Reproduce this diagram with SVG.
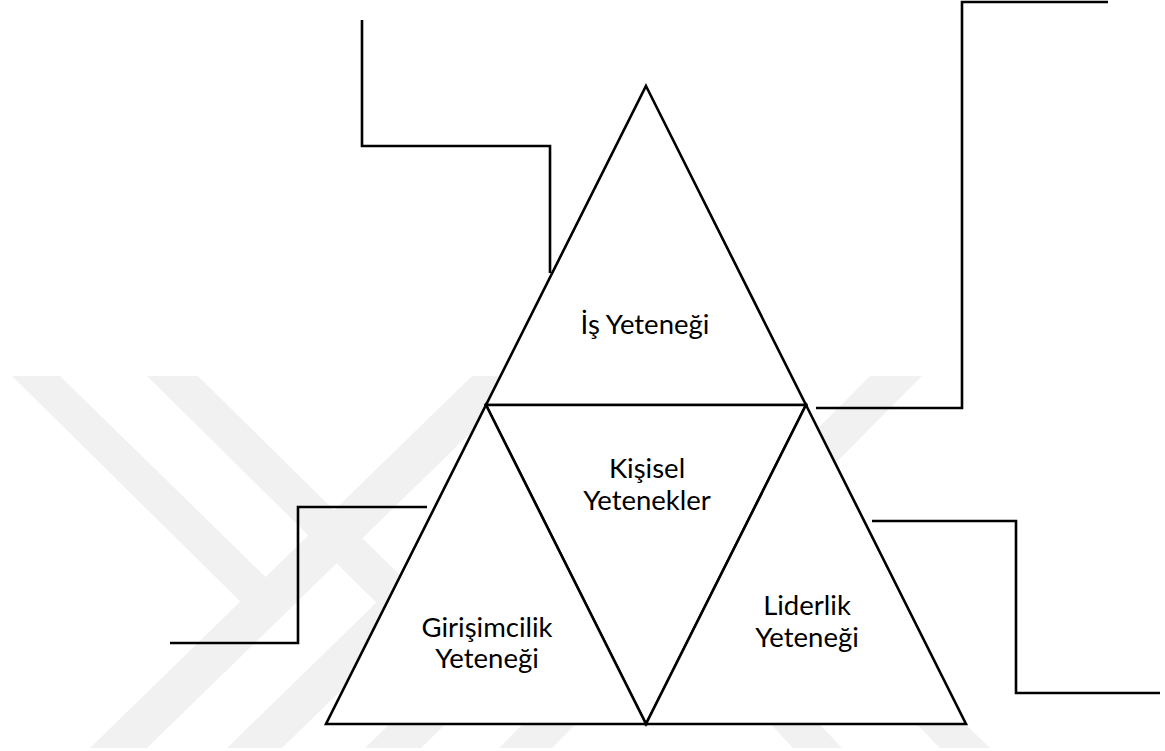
<svg xmlns="http://www.w3.org/2000/svg" width="1165" height="751" viewBox="0 0 1165 751">
  <style>
    .tri { fill: #ffffff; stroke: #000000; stroke-width: 2.6; stroke-linejoin: miter; }
    .link { fill: none; stroke: #000000; stroke-width: 2.6; stroke-linejoin: miter; stroke-linecap: butt; }
    .label { font-family: Lato, "Open Sans", "Liberation Sans", sans-serif; font-size: 27.5px; fill: #000000; text-anchor: middle; }
    .mark { fill: #f1f1f1; }
  </style>
  <defs>
    <clipPath id="markClip">
      <rect x="0" y="376" width="1165" height="372"/>
    </clipPath>
  </defs>

  <rect width="1165" height="751" fill="#ffffff"/>

  <!-- background emblem: diagonal grey bands -->
  <g id="emblem" clip-path="url(#markClip)">
    <polygon class="mark" points="90,748 147,748 529,376 472,376"/>
    <polygon class="mark" points="227,748 282,748 664,376 609,376"/>
    <polygon class="mark" points="365,748 421,748 758,420 702,420"/>
    <polygon class="mark" points="499,748 552,748 922,376 870,376"/>
    <polygon class="mark" points="12,376 60,376 285,596 259,620"/>
    <polygon class="mark" points="147,376 198,376 420,595 394,620"/>
    <polygon class="mark" points="748,700 797,700 842,748 793,748"/>
    <polygon class="mark" points="893,700 940,700 990,748 940,748"/>
  </g>

  <!-- elbow connectors -->
  <g id="connectors">
    <polyline class="link" points="362,20 362,146 550,146 550,273"/>
    <polyline class="link" points="1108,2 962,2 962,408 816,408"/>
    <polyline class="link" points="427,507 298,507 298,643 170,643"/>
    <polyline class="link" points="872,521 1016,521 1016,693 1160,693"/>
  </g>

  <g id="is-yetenegi">
    <polygon class="tri" points="646,86 806,405 486,405"/>
    <text class="label" x="645" y="334">İş Yeteneği</text>
  </g>

  <g id="kisisel-yetenekler">
    <polygon class="tri" points="486,405 806,405 646,724"/>
    <text class="label" x="647" y="478">Kişisel</text>
    <text class="label" x="647" y="510">Yetenekler</text>
  </g>

  <g id="girisimcilik-yetenegi">
    <polygon class="tri" points="486,405 646,724 326,724"/>
    <text class="label" x="487" y="637">Girişimcilik</text>
    <text class="label" x="487" y="668">Yeteneği</text>
  </g>

  <g id="liderlik-yetenegi">
    <polygon class="tri" points="806,405 966,724 646,724"/>
    <text class="label" x="807" y="615">Liderlik</text>
    <text class="label" x="807" y="647">Yeteneği</text>
  </g>
</svg>
